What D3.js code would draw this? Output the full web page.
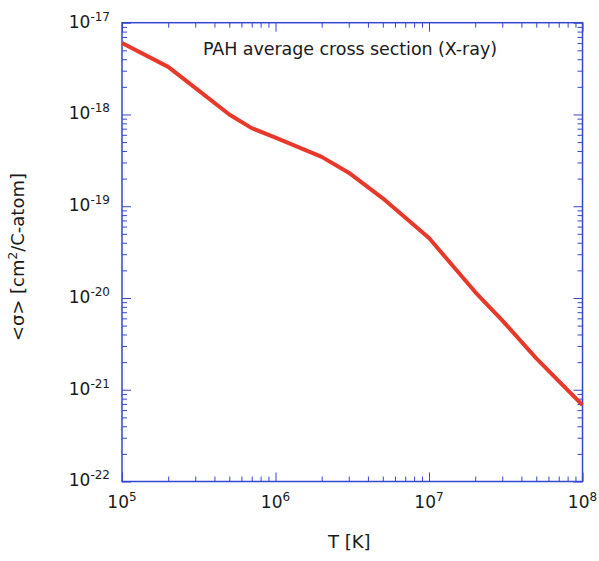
<!DOCTYPE html>
<html>
<head>
<meta charset="utf-8">
<script src="https://cdn.jsdelivr.net/npm/d3@7"></script>
<style>
  body { margin: 0; background: #fff; }
  svg text { font-family: "DejaVu Sans", sans-serif; fill: #1a1a1a; }
</style>
</head>
<body>
<svg width="599" height="561"></svg>
<script>
// temperature [K]
var temps = [1e5, 2e5, 3e5, 5e5, 7e5, 1e6, 2e6, 3e6, 5e6, 1e7, 2e7, 3e7, 5e7, 1e8];
// average cross section [cm^2 / C-atom]
var sigma = [6.0e-18, 3.3e-18, 1.95e-18, 1.0e-18, 7.1e-19, 5.6e-19, 3.45e-19, 2.32e-19,
             1.22e-19, 4.5e-20, 1.16e-20, 5.7e-21, 2.2e-21, 6.8e-22];
var xDecades = [5, 6, 7, 8];
var yDecades = [-22, -21, -20, -19, -18, -17];
var title = "PAH average cross section (X-ray)";

var svg = d3.select("svg"),
    margin = {top: 22.7, right: 16.5, bottom: 79.5, left: 122},
    width = 599 - margin.left - margin.right,
    height = 561 - margin.top - margin.bottom,
    g = svg.append("g").attr("transform", "translate(" + margin.left + "," + margin.top + ")");

var axisColor = "#3447cf";

var x = d3.scaleLog().domain([1e5, 1e8]).range([0, width]);
var y = d3.scaleLog().domain([1e-22, 1e-17]).range([height, 0]);

// tick positions: decades + minor 2..9
function minors(decades) {
  var out = [];
  decades.forEach(function(e, i) {
    if (i === decades.length - 1) return;
    for (var k = 2; k <= 9; k++) out.push(k * Math.pow(10, e));
  });
  return out;
}
var xMajor = xDecades.map(function(e) { return Math.pow(10, e); });
var yMajor = yDecades.map(function(e) { return Math.pow(10, e); });
var xMinor = minors(xDecades), yMinor = minors(yDecades);

var majorLen = 9, minorLen = 5;

function tickAxis(axisFn, scale, vals, len, transform) {
  g.append("g")
      .attr("transform", transform)
      .call(axisFn(scale).tickValues(vals).tickSizeInner(len).tickSizeOuter(0).tickFormat(""))
      .call(function(s) {
        s.select(".domain").remove();
        s.selectAll(".tick line").attr("stroke", axisColor).attr("stroke-width", 1);
      });
}

// inward ticks on all four sides
tickAxis(d3.axisTop, x, xMajor, majorLen, "translate(0," + height + ")");
tickAxis(d3.axisTop, x, xMinor, minorLen, "translate(0," + height + ")");
tickAxis(d3.axisBottom, x, xMajor, majorLen, "translate(0,0)");
tickAxis(d3.axisBottom, x, xMinor, minorLen, "translate(0,0)");
tickAxis(d3.axisRight, y, yMajor, majorLen, "translate(0,0)");
tickAxis(d3.axisRight, y, yMinor, minorLen, "translate(0,0)");
tickAxis(d3.axisLeft, y, yMajor, majorLen, "translate(" + width + ",0)");
tickAxis(d3.axisLeft, y, yMinor, minorLen, "translate(" + width + ",0)");

// frame
g.append("rect")
    .attr("width", width)
    .attr("height", height)
    .attr("fill", "none")
    .attr("stroke", axisColor)
    .attr("stroke-width", 1.5);

// tick labels
xDecades.forEach(function(e) {
  var t = g.append("text")
      .attr("x", x(Math.pow(10, e)))
      .attr("y", height + 27)
      .attr("text-anchor", "middle")
      .style("font-size", "17px");
  t.append("tspan").text("10");
  t.append("tspan").attr("dy", -7).style("font-size", "12px").text(e);
});

yDecades.forEach(function(e) {
  var t = g.append("text")
      .attr("x", -12)
      .attr("y", y(Math.pow(10, e)) + 5)
      .attr("text-anchor", "end")
      .style("font-size", "17px");
  t.append("tspan").text("10");
  t.append("tspan").attr("dy", -7).style("font-size", "12px").text(e);
});

// curve
var line = d3.line()
    .x(function(d, i) { return x(temps[i]); })
    .y(function(d) { return y(d); });

g.append("path")
    .datum(sigma)
    .attr("fill", "none")
    .attr("stroke", "#e8382a")
    .attr("stroke-width", 4)
    .attr("stroke-linejoin", "round")
    .attr("d", line);

// title inside plot
g.append("text")
    .attr("x", 81)
    .attr("y", 32.5)
    .attr("textLength", 294)
    .style("font-size", "17.5px")
    .text(title);

// axis titles
svg.append("text")
    .attr("x", margin.left + width / 2 - 3)
    .attr("y", 548)
    .attr("text-anchor", "middle")
    .style("font-size", "18px")
    .text("T [K]");

var yl = svg.append("text")
    .attr("transform", "translate(24," + (margin.top + height / 2 + 5) + ") rotate(-90)")
    .attr("text-anchor", "middle")
    .style("font-size", "18px");
yl.append("tspan").text("<σ> [cm");
yl.append("tspan").attr("dy", -7).style("font-size", "12px").text("2");
yl.append("tspan").attr("dy", 7).text("/C-atom]");
</script>
</body>
</html>
